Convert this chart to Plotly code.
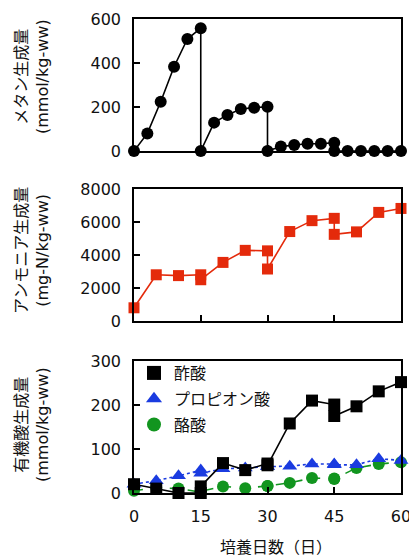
import plotly.graph_objects as go

# ---- data -------------------------------------------------------------
# Sampling days; days 15, 30 and 45 appear twice (end of one batch, start of the next)
days_methane = [0, 3, 6, 9, 12, 15, 15, 18, 21, 24, 27, 30, 30, 33, 36, 39, 42, 45, 45, 48, 51, 54, 57, 60]
methane = [0, 80, 224, 383, 509, 558, 0, 129, 164, 191, 197, 201, 0, 20, 27, 33, 33, 38, 0, 0, 0, 0, 0, 0]

days = [0, 5, 10, 15, 15, 20, 25, 30, 30, 35, 40, 45, 45, 50, 55, 60]
ammonia = [800, 2800, 2750, 2800, 2500, 3550, 4280, 4250, 3150, 5420, 6080, 6220, 5250, 5400, 6580, 6820]
acetic = [20, 10, 0, 0, 15, 68, 52, 67, 63, 158, 210, 201, 175, 197, 231, 252]
propionic = [20, 28, 39, 52, 45, 55, 57, 60, 60, 61, 66, 66, 64, 64, 78, 74]
butyric = [5, 12, 10, 2, 4, 15, 11, 16, 16, 23, 34, 33, 32, 57, 66, 70]

x_ticks = [0, 15, 30, 45, 60]
y_ticks_methane = [0, 200, 400, 600]
y_ticks_ammonia = [0, 2000, 4000, 6000, 8000]
y_ticks_acids = [0, 100, 200, 300]

names_acids = ["酢酸", "プロピオン酸", "酪酸"]
title_methane = "メタン生成量<br>(mmol/kg-ww)"
title_ammonia = "アンモニア生成量<br>(mg-N/kg-ww)"
title_acids = "有機酸生成量<br>(mmol/kg-ww)"
title_x = "培養日数（日）"

# ---- styling ----------------------------------------------------------
FONT = "DejaVu Sans, Noto Sans CJK JP"
TEXT = "#111111"
BLACK = "#000000"
RED = "#e42a0b"
BLUE = "#1a3be0"
GREEN = "#12951f"

fig = go.Figure()

# methane (top panel)
fig.add_trace(go.Scatter(
    x=days_methane, y=methane, mode="lines+markers",
    line=dict(color=BLACK, width=1.6),
    marker=dict(symbol="circle", size=12, color=BLACK),
    xaxis="x", yaxis="y", showlegend=False, cliponaxis=False))

# ammonia (middle panel)
fig.add_trace(go.Scatter(
    x=days, y=ammonia, mode="lines+markers",
    line=dict(color=RED, width=1.6),
    marker=dict(symbol="square", size=11, color=RED),
    xaxis="x2", yaxis="y2", showlegend=False, cliponaxis=False))

# organic acids (bottom panel)
acid_series = [
    (butyric, GREEN, "circle", 12, "dash"),
    (propionic, BLUE, "triangle-up", 13, "dot"),
    (acetic, BLACK, "square", 12, "solid"),
]
for vals, col, sym, sz, dash in acid_series:
    fig.add_trace(go.Scatter(
        x=days, y=vals, mode="lines+markers",
        line=dict(color=col, width=1.6, dash=dash),
        marker=dict(symbol=sym, size=sz, color=col),
        xaxis="x3", yaxis="y3", showlegend=False, cliponaxis=False))

# legend entries (markers only)
for name, col, sym in [(names_acids[0], BLACK, "square"),
                       (names_acids[1], BLUE, "triangle-up"),
                       (names_acids[2], GREEN, "circle")]:
    fig.add_trace(go.Scatter(
        x=[None], y=[None], mode="markers", name=name,
        marker=dict(symbol=sym, size=14, color=col),
        xaxis="x3", yaxis="y3", legendgroup=name))

axis_common = dict(
    showline=True, linecolor=BLACK, linewidth=1.5, mirror=True,
    ticks="inside", ticklen=6, tickwidth=1.5, tickcolor=BLACK,
    showgrid=False, zeroline=False, automargin=False, ticklabeloverflow="allow",
    tickfont=dict(family=FONT, size=16, color=TEXT),
)

fig.update_layout(
    width=409, height=559,
    margin=dict(l=134, r=8, t=19, b=66),
    paper_bgcolor="white", plot_bgcolor="white",
    font=dict(family=FONT, size=16, color=TEXT),
    xaxis=dict(domain=[0, 1], range=[0, 60], tickvals=x_ticks, showticklabels=False,
               anchor="y", **axis_common),
    yaxis=dict(domain=[0.7215, 1], range=[0, 600], tickvals=y_ticks_methane,
               anchor="x", ticklabelstandoff=8, **axis_common),
    xaxis2=dict(domain=[0, 1], range=[0, 60], tickvals=x_ticks, showticklabels=False,
                anchor="y2", **axis_common),
    yaxis2=dict(domain=[0.3629, 0.6414], range=[0, 8000], tickvals=y_ticks_ammonia,
                anchor="x2", ticklabelstandoff=8, **axis_common),
    xaxis3=dict(domain=[0, 1], range=[0, 60], tickvals=x_ticks,
                anchor="y3", ticklabelstandoff=8, **axis_common),
    yaxis3=dict(domain=[0, 0.2785], range=[0, 300], tickvals=y_ticks_acids,
                anchor="x3", ticklabelstandoff=8, **axis_common),
    legend=dict(x=0.0, y=0.289, xanchor="left", yanchor="top",
                bgcolor="rgba(0,0,0,0)", font=dict(family=FONT, size=16, color=TEXT),
                traceorder="grouped", tracegroupgap=2, itemwidth=30),
)

annotations = [
    dict(text=title_methane, x=-0.382, y=0.8776),
    dict(text=title_ammonia, x=-0.382, y=0.5105),
    dict(text=title_acids, x=-0.382, y=0.1435),
]
for a in annotations:
    fig.add_annotation(xref="paper", yref="paper", textangle=-90,
                       xanchor="center", yanchor="middle", showarrow=False,
                       font=dict(family=FONT, size=16, color=TEXT), **a)
fig.add_annotation(text=title_x, xref="paper", yref="paper", x=0.532, y=-0.116,
                   xanchor="center", yanchor="middle", showarrow=False,
                   font=dict(family=FONT, size=16, color=TEXT))

fig.write_html("out.html")
